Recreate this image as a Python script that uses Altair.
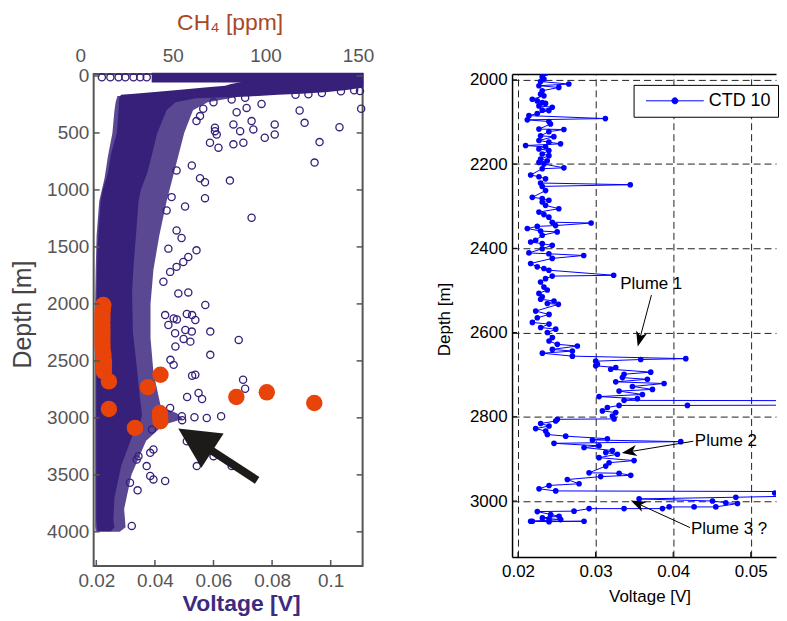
import altair as alt
import pandas as pd

FONT = "Liberation Sans"
PURPLE = "#36207a"
ORANGE = "#e8440a"
BLUE = "#0000ff"
GRAY = "#555555"
INK = "#1d1b19"

# ======================= LEFT PANEL DATA =======================
# solid core of the dense scatter cloud: depth [m], left / right edge [V]
core_depth = [50, 70, 85, 100, 120, 140, 155, 165, 180, 195, 230, 300, 500, 690, 850, 1000,
              1100, 1380, 1500, 1675, 1900, 2250, 2550, 2850, 2970, 3050, 3130, 3420, 3700,
              3900, 3960, 3995]
core_left = [0.0700, 0.0660, 0.0640, 0.0570, 0.0487, 0.0400, 0.0330, 0.0285, 0.0280, 0.0278,
             0.0277, 0.0276, 0.0270, 0.0250, 0.0240, 0.0222, 0.0215, 0.0207, 0.0204, 0.0203,
             0.0201, 0.0200, 0.0200, 0.0200, 0.0200, 0.0200, 0.0200, 0.0200, 0.0200, 0.0200,
             0.0202, 0.0205]
core_right = [0.1112, 0.1112, 0.1112, 0.1112, 0.1060, 0.0990, 0.0900, 0.0820, 0.0720, 0.0540,
              0.0470, 0.0440, 0.0408, 0.0390, 0.0374, 0.0352, 0.0344, 0.0336, 0.0332, 0.0327,
              0.0322, 0.0325, 0.0338, 0.0350, 0.0356, 0.0350, 0.0327, 0.0285, 0.0262, 0.0258,
              0.0262, 0.0250]
# near-surface layer of continuous circles
band_depth = [-28, 57]
band_left = [0.0389, 0.0389]
band_right = [0.1112, 0.1112]
# halo of heavily overlapping circles around the core
halo_depth = [175, 230, 300, 500, 700, 900, 1100, 1400, 1700, 2000, 2300, 2600, 2900, 2960,
              3010, 3060, 3200, 3500, 3800, 3960, 4000]
halo_left = [0.0272, 0.0266, 0.0262, 0.0255, 0.0240, 0.0228, 0.0210, 0.0201, 0.0198, 0.0196,
             0.0196, 0.0196, 0.0196, 0.0196, 0.0196, 0.0196, 0.0196, 0.0196, 0.0196, 0.0196,
             0.0198]
halo_right = [0.0700, 0.0580, 0.0530, 0.0500, 0.0480, 0.0460, 0.0440, 0.0415, 0.0395, 0.0385,
              0.0385, 0.0395, 0.0420, 0.0475, 0.0495, 0.0430, 0.0370, 0.0320, 0.0295, 0.0300,
              0.0280]
# isolated circles (voltage, depth)
outliers = [
    (0.0565, 288), (0.0554, 352), (0.0542, 396), (0.0605, 454), (0.0605, 484), (0.0611, 513),
    (0.0588, 586), (0.0617, 629), (0.0668, 425), (0.0691, 484), (0.0679, 318), (0.0713, 280),
    (0.0764, 245), (0.0730, 396), (0.0736, 469), (0.0702, 586), (0.0668, 600), (0.0775, 542),
    (0.0809, 513), (0.0809, 425), (0.0911, 411), (0.0894, 303), (0.1030, 449), (0.1104, 288),
    (0.0962, 580), (0.0945, 760),
    (0.0600, 230), (0.0662, 207), (0.0708, 192), (0.0924, 160),
    (0.1080, 125), (0.1100, 132), (0.1035, 135), (0.0970, 150), (0.0880, 165),
    (0.0526, 786), (0.0474, 830), (0.0554, 897), (0.0571, 932), (0.0656, 918), (0.0571, 1072),
    (0.0503, 1145), (0.0730, 1244), (0.0474, 1355), (0.0491, 1422), (0.0542, 1530),
    (0.0514, 1588), (0.0497, 1632), (0.0474, 1675), (0.0452, 1719), (0.0480, 1908),
    (0.0514, 1899), (0.0429, 1806), (0.0446, 1515), (0.0457, 1063), (0.0440, 1180),
    (0.0572, 2010), (0.0527, 2098), (0.0538, 2141), (0.0589, 2243), (0.0498, 2307),
    (0.0521, 2331), (0.0686, 2316), (0.0589, 2447), (0.0470, 2374), (0.0504, 2229),
    (0.0464, 2127), (0.0453, 2491), (0.0464, 2535), (0.0527, 2631), (0.0538, 2622),
    (0.0701, 2666), (0.0708, 2744), (0.0549, 2782), (0.0561, 2835), (0.0510, 2817),
    (0.0509, 2089), (0.0435, 2098), (0.0475, 2136), (0.0446, 2185), (0.0469, 2258),
    (0.0526, 2243), (0.0535, 2995), (0.0577, 3001), (0.0626, 2986), (0.0452, 2913),
    (0.0492, 2986),
    (0.0390, 3103), (0.0509, 3205), (0.0600, 3336), (0.0543, 3423), (0.0662, 3423),
    (0.0372, 3423), (0.0395, 3278), (0.0384, 3307), (0.0344, 3336), (0.0338, 3365),
    (0.0384, 3510), (0.0395, 3540), (0.0435, 3554), (0.0341, 3636), (0.0321, 3948),
    (0.0315, 3569), (0.0493, 3020),
    (0.0219, 12), (0.0248, 12), (0.0276, 12), (0.0299, 12), (0.0327, 12), (0.0350, 12),
    (0.0372, 12),
]
# orange highlighted samples (voltage, depth)
orange = [
    (0.0224, 2010), (0.0222, 2055), (0.0221, 2098), (0.0221, 2140), (0.0221, 2185),
    (0.0221, 2230), (0.0221, 2272), (0.0221, 2315), (0.0221, 2360), (0.0222, 2400),
    (0.0224, 2447), (0.0225, 2485), (0.0226, 2520), (0.0226, 2555), (0.0226, 2593),
    (0.0243, 2680), (0.0419, 2622), (0.0376, 2730), (0.0678, 2817), (0.0782, 2776),
    (0.0944, 2870), (0.0243, 2922), (0.0417, 2957), (0.0418, 2990), (0.0419, 3030),
    (0.0332, 3088),
]
left_depth_ticks = [0, 500, 1000, 1500, 2000, 2500, 3000, 3500, 4000]
left_volt_ticks = [0.02, 0.04, 0.06, 0.08, 0.1]
ch4_ticks = [0, 50, 100, 150]
ch4_title = "CH₄ [ppm]"
# big arrow: tail, shaft end, head centre
big_arrow = {"v1": [0.0749], "d1": [3548], "v2": [0.0572], "d2": [3251]}
big_head = {"v": [0.05382], "d": [3190]}

# ======================= RIGHT PANEL DATA =======================
# CTD 10 profile in cast order: (depth [m], voltage [V])
CTD_10 = [
    (1985, 0.02355), (1993, 0.02312), (1998, 0.02334), (2004, 0.02291), (2010, 0.02655),
    (2014, 0.02270), (2018, 0.02526), (2026, 0.02312), (2034, 0.02291), (2038, 0.02334),
    (2046, 0.02184), (2050, 0.02248), (2054, 0.02312), (2056, 0.02355), (2062, 0.02270),
    (2065, 0.02441), (2072, 0.02312), (2073, 0.02398), (2080, 0.02248), (2085, 0.02141),
    (2092, 0.03126), (2095, 0.02120), (2099, 0.02398), (2105, 0.02419), (2117, 0.02270),
    (2118, 0.02591), (2123, 0.02398), (2133, 0.02291), (2135, 0.02462), (2144, 0.02270),
    (2148, 0.02398), (2152, 0.02548), (2156, 0.02098), (2159, 0.02355), (2164, 0.02270),
    (2168, 0.02398), (2176, 0.02312), (2180, 0.02398), (2188, 0.02291), (2192, 0.02377),
    (2196, 0.02270), (2200, 0.02334), (2209, 0.02591), (2211, 0.02312), (2226, 0.02163),
    (2230, 0.02270), (2235, 0.02355), (2245, 0.02291), (2249, 0.03447), (2253, 0.02312),
    (2263, 0.02355), (2279, 0.02184), (2282, 0.02312), (2286, 0.02398), (2290, 0.02312),
    (2298, 0.02355), (2306, 0.02526), (2314, 0.02270), (2320, 0.02334), (2326, 0.02398),
    (2338, 0.02441), (2340, 0.02942), (2346, 0.02484), (2348, 0.02248), (2353, 0.02120),
    (2359, 0.02291), (2361, 0.02505), (2369, 0.02312), (2381, 0.02227), (2385, 0.02163),
    (2389, 0.02312), (2393, 0.02441), (2401, 0.02312), (2411, 0.02141), (2413, 0.02398),
    (2417, 0.02847), (2424, 0.02441), (2436, 0.02163), (2444, 0.02248), (2448, 0.02334),
    (2452, 0.02398), (2464, 0.03233), (2466, 0.02441), (2472, 0.02355), (2480, 0.02291),
    (2492, 0.02334), (2499, 0.02377), (2507, 0.02270), (2515, 0.02312),
    (2521, 0.02292), (2525, 0.02464), (2531, 0.02378), (2533, 0.02520), (2549, 0.02228),
    (2557, 0.02400), (2565, 0.02249), (2576, 0.02185), (2580, 0.02400), (2588, 0.02292),
    (2592, 0.02486), (2600, 0.02378), (2612, 0.02443), (2620, 0.02400), (2628, 0.02507),
    (2632, 0.02765), (2640, 0.02443), (2644, 0.02701), (2649, 0.02314), (2656, 0.02701),
    (2662, 0.04163), (2664, 0.03582), (2668, 0.03002), (2675, 0.03023), (2679, 0.03002),
    (2683, 0.03260), (2687, 0.03195), (2694, 0.03711), (2699, 0.03367), (2707, 0.03346),
    (2711, 0.03668), (2717, 0.03260), (2721, 0.03883), (2728, 0.03475), (2735, 0.03733),
    (2739, 0.03303), (2747, 0.03604), (2752, 0.03045), (2757, 0.03539), (2761, 0.03367),
    (2762, 0.06500), (2772, 0.06500), (2773, 0.04184), (2773, 0.03303), (2778, 0.03152),
    (2786, 0.03088), (2790, 0.03260), (2798, 0.03217), (2805, 0.03238), (2806, 0.02507),
    (2810, 0.02486), (2816, 0.02292), (2822, 0.02400), (2828, 0.02228), (2834, 0.02357),
    (2842, 0.02378), (2846, 0.02615), (2852, 0.03152), (2855, 0.02959), (2859, 0.04098),
    (2863, 0.02464), (2869, 0.03045), (2873, 0.02851), (2880, 0.03217), (2885, 0.03131),
    (2889, 0.03281), (2897, 0.03045), (2904, 0.03496), (2909, 0.03174), (2917, 0.03131),
    (2933, 0.02916), (2934, 0.03303), (2939, 0.03453), (2942, 0.03066), (2949, 0.02636),
    (2959, 0.02787), (2963, 0.02400), (2971, 0.02271), (2976, 0.02486), (2978, 0.06500),
    (2981, 0.05310), (2985, 0.06500), (2991, 0.04808), (2995, 0.03561), (3000, 0.04507),
    (3004, 0.04679), (3006, 0.04829), (3014, 0.04550), (3014, 0.04270), (3014, 0.03948),
    (3018, 0.03862), (3018, 0.03367), (3018, 0.02916), (3024, 0.02722), (3025, 0.02249),
    (3032, 0.02421), (3036, 0.02529), (3040, 0.02314), (3042, 0.02400), (3044, 0.02550),
    (3048, 0.02163), (3049, 0.02400), (3048, 0.02851), (3048, 0.02185),
]
right_depth_ticks = [2000, 2200, 2400, 2600, 2800, 3000]
right_volt_ticks = [0.02, 0.03, 0.04, 0.05]
plume_labels = ["Plume 1", "Plume 2", "Plume 3 ?"]
plume_text_v = [0.03717, 0.04280, 0.04230]
plume_text_d = [2484, 2858, 3066]
plume_align = ["center", "left", "left"]
arrow_v1 = [0.03720, 0.04260, 0.04217]
arrow_d1 = [2511, 2858, 3063]
arrow_v2 = [0.03568, 0.03433, 0.03541]
arrow_d2 = [2616, 2883, 3006]
arrow_angle = [195, 261, 295]

# ======================= LEFT PANEL =======================
WL, HL = 270, 494
XL = alt.Scale(domain=[0.0191, 0.1109], nice=False, zero=False)
YL = alt.Scale(domain=[-18, 4300], reverse=True, nice=False, zero=False)
AX_YL = alt.Axis(
    values=left_depth_ticks, format="d", tickSize=0, domain=False, grid=False,
    labelFont=FONT, labelFontSize=19, labelColor=GRAY, labelPadding=5,
    title="Depth [m]", titleFont=FONT, titleFontSize=25, titleFontWeight="normal",
    titleColor="#444444", titleAngle=270, titleX=-71, titleY=241,
    titleBaseline="middle", titleAlign="center")
AX_XL = alt.Axis(
    values=left_volt_ticks, format="~g", tickSize=0, domain=False, grid=False,
    labelFont=FONT, labelFontSize=19, labelColor=GRAY, labelPadding=6,
    title="Voltage [V]", titleFont=FONT, titleFontSize=23, titleFontWeight="bold",
    titleColor="#3d2b80", titleX=148, titleY=38, titleBaseline="middle",
    titleAlign="center")


def xl(field):
    return alt.X(field, scale=XL, axis=AX_XL)


def yl(field):
    return alt.Y(field, scale=YL, axis=AX_YL)


halo_df = pd.DataFrame({"depth": halo_depth, "left": halo_left, "right": halo_right})
band_df = pd.DataFrame({"depth": band_depth, "left": band_left, "right": band_right})
core_df = pd.DataFrame({"depth": core_depth, "left": core_left, "right": core_right})
out_df = pd.DataFrame(outliers, columns=["v", "d"])
org_df = pd.DataFrame(orange, columns=["v", "d"])

halo = alt.Chart(halo_df).mark_area(orient="horizontal", color=PURPLE, opacity=0.82).encode(
    y=yl("depth:Q"), x=xl("left:Q"), x2="right:Q")
band = alt.Chart(band_df).mark_area(orient="horizontal", color=PURPLE).encode(
    y=yl("depth:Q"), x=xl("left:Q"), x2="right:Q")
core = alt.Chart(core_df).mark_area(orient="horizontal", color=PURPLE).encode(
    y=yl("depth:Q"), x=xl("left:Q"), x2="right:Q")
circles = alt.Chart(out_df).mark_point(shape="circle", filled=False, color=PURPLE, size=52,
                                       strokeWidth=1.3, opacity=1).encode(
    x=xl("v:Q"), y=yl("d:Q"))
dots = alt.Chart(org_df).mark_circle(color=ORANGE, size=272, opacity=1).encode(
    x=xl("v:Q"), y=yl("d:Q"))

ydt = pd.DataFrame({"d": left_depth_ticks})
xvt = pd.DataFrame({"v": left_volt_ticks})
tick_l = alt.Chart(ydt).mark_rule(color=GRAY, strokeWidth=1.5).encode(
    y=yl("d:Q"), x=alt.value(0), x2=alt.value(6))
tick_r = alt.Chart(ydt).mark_rule(color=GRAY, strokeWidth=1.5).encode(
    y=yl("d:Q"), x=alt.value(WL - 6), x2=alt.value(WL))
tick_b = alt.Chart(xvt).mark_rule(color=GRAY, strokeWidth=1.5).encode(
    x=xl("v:Q"), y=alt.value(HL - 6), y2=alt.value(HL))

shaft = alt.Chart(pd.DataFrame(big_arrow)).mark_rule(strokeWidth=8, color=INK).encode(
    x=xl("v1:Q"), y=yl("d1:Q"), x2="v2:Q", y2="d2:Q")
head = alt.Chart(pd.DataFrame(big_head)).mark_point(
    shape="M0,-1L1,1L-1,1Z", filled=True, size=1681, angle=303, color=INK, opacity=1).encode(
    x=xl("v:Q"), y=yl("d:Q"))

ch4_df = pd.DataFrame({"ch4": ch4_ticks, "label": [str(t) for t in ch4_ticks]})
ch4_labels = alt.Chart(ch4_df).mark_text(font=FONT, fontSize=19, color=GRAY,
                                         baseline="middle", align="center").encode(
    x=alt.X("ch4:Q", scale=alt.Scale(domain=[7.0, 152.2], nice=False, zero=False), axis=None),
    y=alt.value(-18), text="label:N")
ch4_head = alt.Chart(pd.DataFrame({"t": [ch4_title]})).mark_text(
    font=FONT, fontSize=23, color="#a8482a", baseline="middle", align="center").encode(
    x=alt.value(137), y=alt.value(-51), text="t:N")

left_inner = alt.layer(halo, band, core, circles, dots, tick_l, tick_r, tick_b, shaft, head)
left = alt.layer(left_inner, ch4_labels, ch4_head).resolve_scale(x="independent").properties(
    width=WL, height=HL,
    view=alt.ViewBackground(stroke=GRAY, strokeWidth=2))

# ======================= RIGHT PANEL =======================
WR, HR = 265, 485
XR = alt.Scale(domain=[0.01923, 0.05326], nice=False, zero=False)
YR = alt.Scale(domain=[1986, 3133], reverse=True, nice=False, zero=False)
AX_YR = alt.Axis(
    orient="left", values=right_depth_ticks, format="d", grid=True, gridDash=[7, 4],
    gridColor="#222222", gridWidth=1, tickSize=0, domainColor="black", domainWidth=1.5,
    labelFont=FONT, labelFontSize=17, labelColor="black", labelPadding=5,
    title="Depth [m]", titleFont=FONT, titleFontSize=17, titleFontWeight="normal",
    titleColor="black", titleAngle=270, titleX=-68, titleY=246,
    titleBaseline="middle", titleAlign="center")


def xr(field):
    return alt.X(field, scale=XR, axis=None)


def yr(field):
    return alt.Y(field, scale=YR, axis=AX_YR)


ctd_df = pd.DataFrame(CTD_10, columns=["d", "v"])
ctd_df["seq"] = range(len(ctd_df))
ctd_df["series"] = "CTD 10"

line = alt.Chart(ctd_df).mark_line(color=BLUE, strokeWidth=1, clip=True).encode(
    x=alt.X("v:Q", scale=XR, axis=alt.Axis(
        orient="bottom", values=right_volt_ticks, format=".2f", grid=True,
        gridDash=[7, 4], gridColor="#222222", gridWidth=1, tickSize=0,
        domainColor="black", domainWidth=1.5, labelFont=FONT, labelFontSize=17,
        labelColor="black", labelPadding=7, title="Voltage [V]", titleFont=FONT,
        titleFontSize=17, titleFontWeight="normal", titleColor="black", titleX=138,
        titleY=40, titleBaseline="middle", titleAlign="center")),
    y=yr("d:Q"),
    order="seq:Q")

LEG_PATH = "M-1,0H10.6M4.2,0A0.6,0.6,0,1,1,5.4,0A0.6,0.6,0,1,1,4.2,0Z"
pts = alt.Chart(ctd_df).mark_point(filled=True, size=32, opacity=1, clip=True).encode(
    x=xr("v:Q"), y=yr("d:Q"),
    color=alt.Color("series:N", scale=alt.Scale(range=[BLUE]), legend=alt.Legend(
        orient="none", legendX=122, legendY=11, title=None, symbolType=LEG_PATH,
        symbolSize=100, symbolFillColor=BLUE, symbolStrokeColor=BLUE, symbolStrokeWidth=1,
        symbolOffset=1.5, labelOffset=49, labelFont=FONT, labelFontSize=18,
        labelColor="black", strokeColor="black", fillColor="white", padding=7)))

rdt = pd.DataFrame({"d": right_depth_ticks})
rvt = pd.DataFrame({"v": right_volt_ticks})
rtick_l = alt.Chart(rdt).mark_rule(color="black", strokeWidth=1).encode(
    y=yr("d:Q"), x=alt.value(0), x2=alt.value(5))
rtick_b = alt.Chart(rvt).mark_rule(color="black", strokeWidth=1).encode(
    x=alt.X("v:Q", scale=XR, axis=alt.Axis(
        orient="top", labels=False, ticks=False, grid=False, domain=True,
        domainColor="black", domainWidth=1.5, title=None)),
    y=alt.value(HR - 5), y2=alt.value(HR))

ann_df = pd.DataFrame({"label": plume_labels, "tv": plume_text_v, "td": plume_text_d,
                       "align": plume_align, "v1": arrow_v1, "d1": arrow_d1,
                       "v2": arrow_v2, "d2": arrow_d2, "ang": arrow_angle})
ann_c = alt.Chart(ann_df[ann_df["align"] == "center"]).mark_text(
    font=FONT, fontSize=17, color="black", align="center", baseline="middle").encode(
    x=xr("tv:Q"), y=yr("td:Q"), text="label:N")
ann_l = alt.Chart(ann_df[ann_df["align"] == "left"]).mark_text(
    font=FONT, fontSize=17, color="black", align="left", baseline="middle").encode(
    x=xr("tv:Q"), y=yr("td:Q"), text="label:N")
ann_line = alt.Chart(ann_df).mark_rule(color="black", strokeWidth=1).encode(
    x=xr("v1:Q"), y=yr("d1:Q"), x2="v2:Q", y2="d2:Q")
ann_head = alt.Chart(ann_df).mark_point(
    shape="M0,-1L0.75,1L0,0.45L-0.75,1Z", filled=True, size=225, color="black",
    opacity=1).encode(x=xr("v2:Q"), y=yr("d2:Q"), angle=alt.Angle("ang:Q", scale=None))

right = alt.layer(line, pts, rtick_l, rtick_b, ann_line, ann_head, ann_c, ann_l).properties(
    width=WR, height=HR, view=alt.ViewBackground(stroke="transparent"))

chart = alt.hconcat(left, right, spacing=150, bounds="flush").resolve_legend(
    color="independent").properties(
    padding={"left": 2, "top": 2, "right": 0, "bottom": 0}
).configure_view(stroke="transparent")

chart.save("out.html", embed_options={"renderer": "svg", "actions": False})
